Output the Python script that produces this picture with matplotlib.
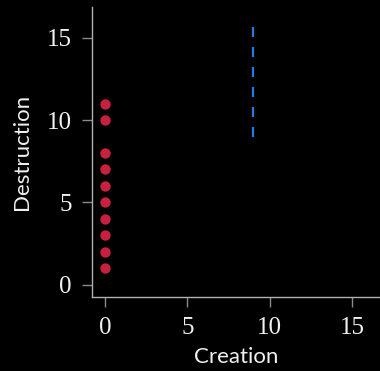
import matplotlib
matplotlib.use("Agg")
import matplotlib.pyplot as plt

# data
creation = [0, 0, 0, 0, 0, 0, 0, 0, 0, 0]
destruction = [1, 2, 3, 4, 5, 6, 7, 8, 10, 11]
line_x = [9, 9]
line_y = [9, 16]
ticks = [0, 5, 10, 15]

fig = plt.figure(figsize=(3.8, 3.71), dpi=100, facecolor="black")
ax = fig.add_axes([0.242, 0.1995, 0.758, 0.7815], facecolor="black")

ax.scatter(creation, destruction, s=56, color="#c8203f", zorder=3, linewidths=0)
ax.plot(line_x, line_y, color="#1f7ee0", lw=1.6, dashes=(4.5, 4.5))

ax.set_xlim(-0.79, 16.7)
ax.set_ylim(-0.73, 16.85)
ax.set_xticks(ticks)
ax.set_yticks(ticks)

for side in ("top", "right"):
    ax.spines[side].set_visible(False)
for side in ("left", "bottom"):
    ax.spines[side].set_color("#b0b0b0")
    ax.spines[side].set_linewidth(1.0)

ax.tick_params(colors="#8a8a8a", length=7.4, width=1.0, pad=7,
               labelcolor="#f0f0f0", labelsize=18)
for lab in ax.get_xticklabels() + ax.get_yticklabels():
    lab.set_family("Liberation Serif")

ax.set_xlabel("Creation", color="#f0f0f0", fontsize=16, family="Lato", labelpad=6)
ax.set_ylabel("Destruction", color="#f0f0f0", fontsize=16, family="Lato", labelpad=11)

fig.savefig("out.png", dpi=100, facecolor="black")
